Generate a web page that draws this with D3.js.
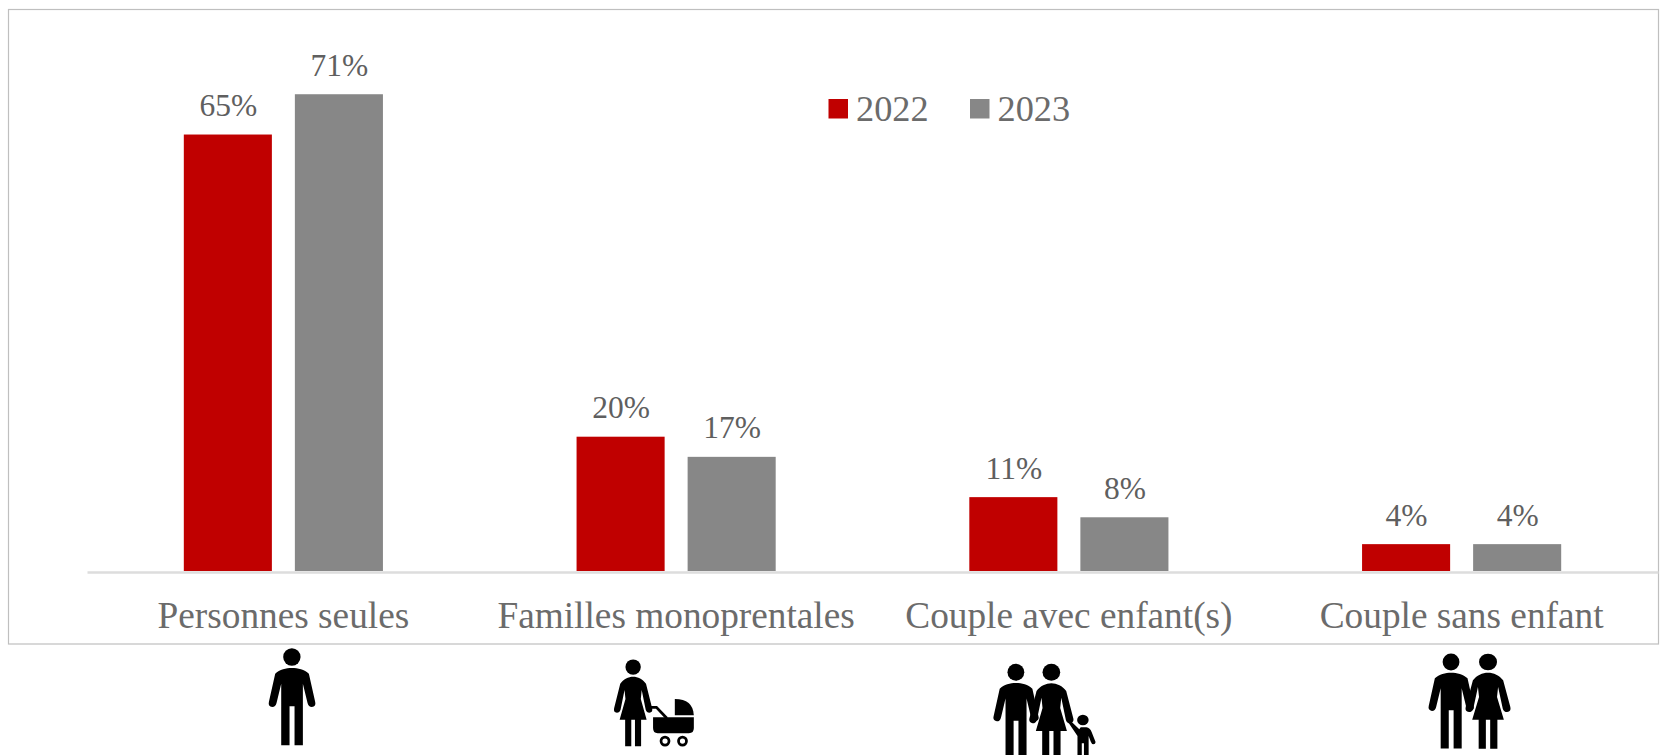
<!DOCTYPE html>
<html><head><meta charset="utf-8">
<script src="https://cdn.jsdelivr.net/npm/d3@7"></script>
<style>html,body{margin:0;padding:0;background:#fff;overflow:hidden}svg{display:block}
text{font-family:"Liberation Serif",serif;fill:#5f5f5f}</style></head>
<body><svg id="c" width="1667" height="755"></svg>
<script>
const categories = ["Personnes seules","Familles monoprentales","Couple avec enfant(s)","Couple sans enfant"];
const seriesNames = ["2022","2023"];
const values2022 = [65,20,11,4];
const values2023 = [71,17,8,4];
const colors = ["#C00000","#878787"];

const svg = d3.select("#c");
svg.append("rect").attr("x",8.5).attr("y",9.5).attr("width",1650).attr("height",634.5)
  .attr("fill","#fff").attr("stroke","#BFBFBF").attr("stroke-width",1.2);

const x0 = d3.scaleBand().domain(categories).range([87,1658]).paddingInner(0.493).paddingOuter(0.2465);
const x1 = d3.scaleBand().domain(seriesNames).range([0,x0.bandwidth()]).paddingInner(0.207);
const y = d3.scaleLinear().domain([0,80]).range([571,33.8]);

const seriesValues = [values2022,values2023];
seriesNames.forEach((s,si)=>{
  const g = svg.append("g");
  g.selectAll("rect").data(seriesValues[si]).join("rect")
    .attr("x",(d,i)=>x0(categories[i])+x1(s)).attr("y",d=>y(d))
    .attr("width",x1.bandwidth()).attr("height",d=>y(0)-y(d)).attr("fill",colors[si]);
  g.selectAll("text").data(seriesValues[si]).join("text")
    .attr("x",(d,i)=>x0(categories[i])+x1(s)+x1.bandwidth()/2+0.5).attr("y",d=>y(d)-18.5)
    .attr("text-anchor","middle").attr("font-size",31.5).text(d=>d+"%");
});

const axis = svg.append("g").attr("transform",`translate(0,${y(0)+1})`)
  .call(d3.axisBottom(x0).tickSize(0).tickPadding(0));
axis.select(".domain").attr("stroke","#DDDDDD").attr("stroke-width",2.5);
axis.selectAll("text").attr("font-size",37.3).attr("dy",0).attr("y",56).attr("style","fill:#6b6b6b");

// legend
const legendX = [828.5,970];
seriesNames.forEach((s,i)=>{
  svg.append("rect").attr("x",legendX[i]).attr("y",99).attr("width",19.5).attr("height",19.5).attr("fill",colors[i]);
  svg.append("text").attr("x",legendX[i]+27.5).attr("y",121).attr("font-size",36.3).attr("style","fill:#6b6b6b").text(s);
});

// pictograms, drawn in a local frame centred on the head
const manBody = "M0 33C18 33 38 38 51 50L70 135Q73 148 60 150Q50 150 47 138L33 80L33 265L8 265L8 148L-7 148L-7 265L-32 265L-32 80L-46 138Q-49 150-59 150Q-72 148-69 135L-50 50C-37 38-17 33 0 33Z";
const womanBody = "M0 32C15 32 32 40 42 55L62 135Q65 148 53 150Q44 150 41 140L28 75L25 105L44 173L26 173L26 260L6 260L6 173L-6 173L-6 260L-26 260L-26 173L-44 173L-25 105L-28 75L-41 140Q-44 150-53 150Q-65 148-62 135L-42 55C-32 40-15 32 0 32Z";
const childBody = "M-6 22L10 22Q20 24 24 35L35 65Q36 73 29 73Q25 73 22 65L16 48L16 150L3 150L3 70L-3 70L-3 150L-15 150L-15 48L-45 0L-40-4L-10 28Z";
function place(x,y,sx,sy){return svg.append("g").attr("transform",`translate(${x},${y}) scale(${sx/3},${sy/3})`);}
function man(x,y,sx,sy){const g=place(x,y,sx,sy);g.append("circle").attr("r",26);g.append("path").attr("d",manBody);return g;}
function woman(x,y,sx,sy){const g=place(x,y,sx,sy);g.append("circle").attr("r",25);g.append("path").attr("d",womanBody);return g;}
function child(x,y,sx,sy){const g=place(x,y,sx,sy);g.append("circle").attr("r",16);g.append("path").attr("d",childBody);return g;}

const cx = categories.map(c=>x0(c)+x0.bandwidth()/2);
man(cx[0]+8.5,657,1,1);

const w = woman(cx[1]-43,667,0.92,0.915);
w.append("path").attr("d","M58 132L76 132L110 168").attr("fill","none").attr("stroke","#000").attr("stroke-width",9);
w.append("path").attr("d","M136 105Q195 105 198 158L136 158Z");
w.append("path").attr("d","M65 165L198 165L198 200Q198 217 182 217L80 217Q65 217 65 200Z");
[104,161].forEach(dx=>{w.append("circle").attr("cx",dx).attr("cy",243).attr("r",13).attr("fill","#fff").attr("stroke","#000").attr("stroke-width",9);});

man(cx[2]-53,672.3,0.97,0.98);
woman(cx[2]-17.5,672.3,1.06,1.02);
child(cx[2]+14,720,1.08,1);

man(cx[3]-10.6,662,0.97,0.98);
woman(cx[3]+26.4,662,1.08,1);
</script></body></html>
